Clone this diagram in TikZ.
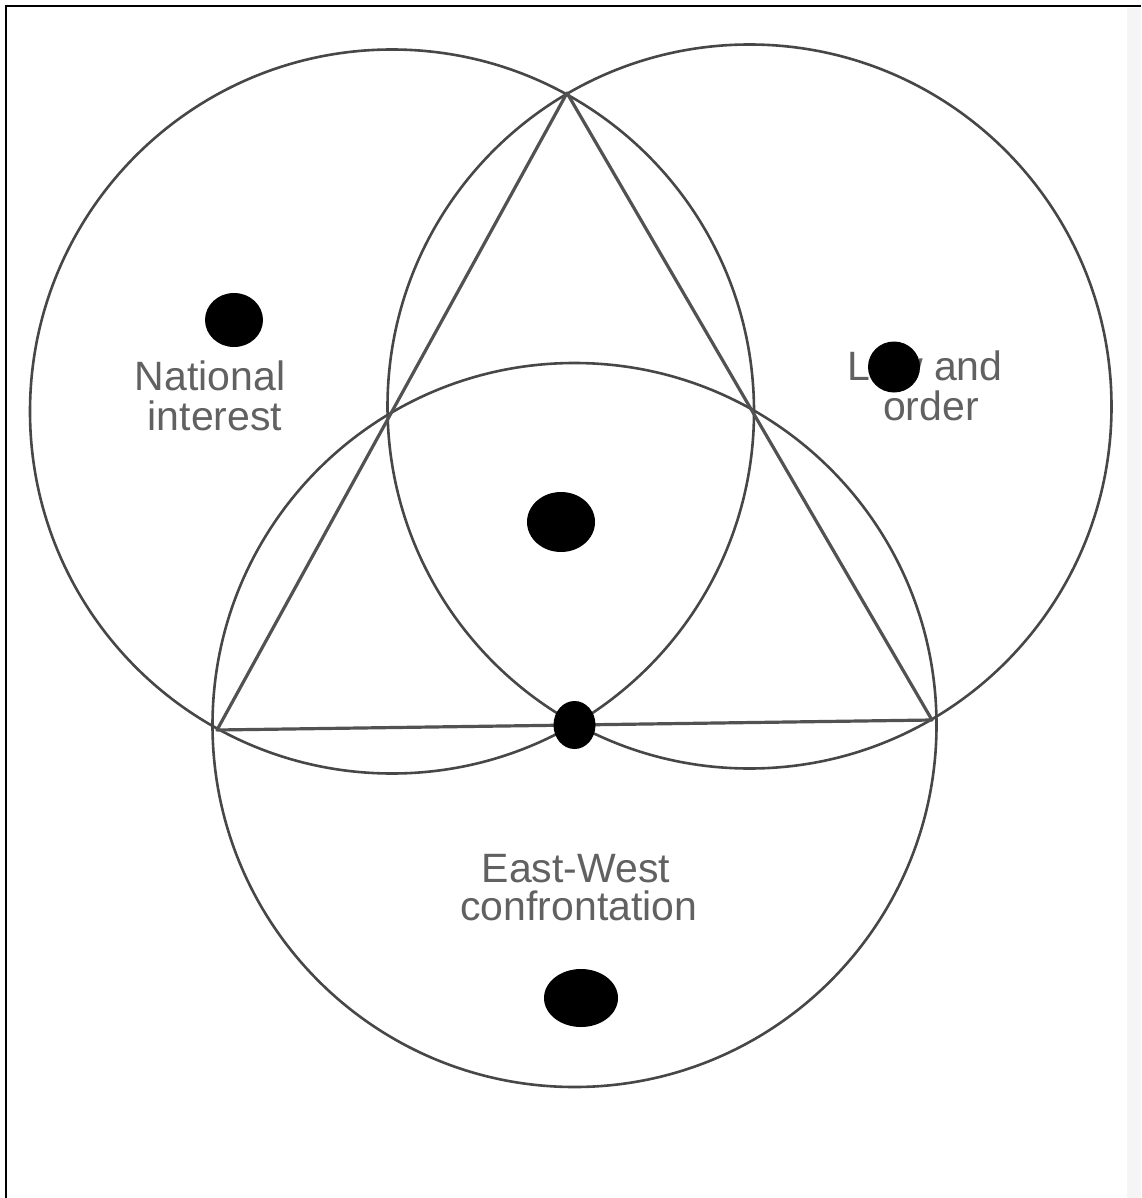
\documentclass[tikz,border=0pt]{standalone}
\usepackage{fontspec}
\setmainfont{Liberation Sans}
\usetikzlibrary{calc}
\begin{document}
\begin{tikzpicture}[x=1pt,y=-1pt,
  ring/.style={draw=black!72,line width=2.6pt},
  tri/.style={draw=black!68,line width=3.2pt,line join=round},
  dot/.style={fill=black},
  lbl/.style={text=black!62,font=\fontsize{41}{41}\selectfont,inner sep=0pt,anchor=base},
  frame/.style={draw=black,line width=2pt}]
\useasboundingbox (0,0) rectangle (1141,1198);
\fill[black!4] (1127,8) rectangle (1141,1198);
\draw[frame] (6,1198) -- (6,6) -- (1141,6);
% triangle vertices
\coordinate (P) at (567,93);
\coordinate (L) at (217,730);
\coordinate (R) at (932,720);
% circle centres (midpoints of the triangle sides)
\coordinate (A) at ($(P)!0.5!(L)$);
\coordinate (B) at ($(P)!0.5!(R)$);
\coordinate (C) at ($(L)!0.5!(R)$);
\draw[ring] (A) circle[radius=362pt];
\draw[ring] (B) circle[radius=362pt];
\draw[ring] (C) circle[radius=362pt];
\draw[tri] (P) -- (L) -- (R) -- cycle;
% labels
\node[lbl] (ni1) at (210,390) {National};
\node[lbl] (ni2) at (215,430) {interest};
\node[lbl] (lo1) at (925,380) {Law and};
\node[lbl] (lo2) at (931,420) {order};
\node[lbl] (ew1) at (576,882) {East-West};
\node[lbl] (ew2) at (579,920) {confrontation};
% dots
\fill[dot] (234,320) ellipse[x radius=29pt,y radius=27pt];
\fill[dot] (894,367) ellipse[x radius=26pt,y radius=25.5pt];
\fill[dot] (561,522) ellipse[x radius=34pt,y radius=30pt];
\fill[dot] (C) ellipse[x radius=21pt,y radius=24pt];
\fill[dot] (581,998) ellipse[x radius=37pt,y radius=29pt];
\end{tikzpicture}
\end{document}
